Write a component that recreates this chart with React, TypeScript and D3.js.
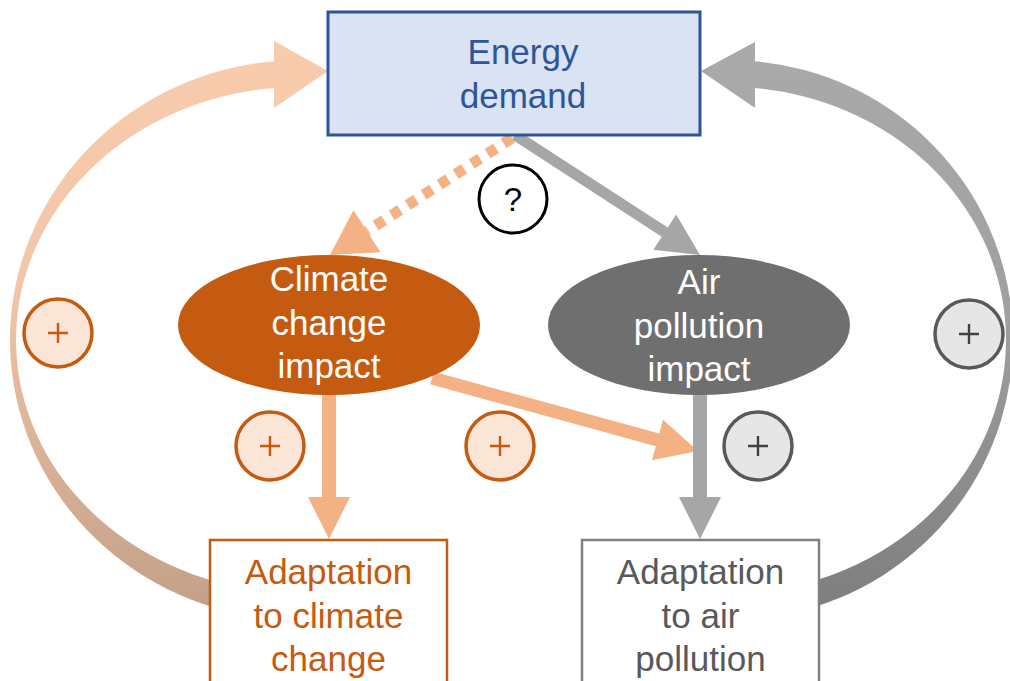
import React, { useEffect, useRef } from 'react';
import * as d3 from 'd3';

const WIDTH = 1010;
const HEIGHT = 681;
const FONT = '"Liberation Sans", Arial, Helvetica, sans-serif';
const FONT_SIZE = 35;

// Diagram content
const demandLabel = ['Energy', 'demand'];
const impactLabels = [
  ['Climate', 'change', 'impact'],
  ['Air', 'pollution', 'impact'],
];
const adaptationLabels = [
  ['Adaptation', 'to climate', 'change'],
  ['Adaptation', 'to air', 'pollution'],
];
const signLabels = ['+', '+', '+', '+', '+'];
const unknownLabel = '?';

// Palette
const ORANGE_DARK = '#c55a11';
const ORANGE_LIGHT = '#f4b183';
const ORANGE_FILL = '#fbe5d6';
const GREY_DARK = '#6f6f6f';
const GREY_LIGHT = '#a6a6a6';
const GREY_FILL = '#e6e6e6';
const BLUE = '#2f5597';

type Pt = [number, number];

// straight block arrow as a polygon
function arrowPolygon(from: Pt, tip: Pt, shaft: number, headLen: number, headHalf: number): Pt[] {
  const dx = tip[0] - from[0];
  const dy = tip[1] - from[1];
  const len = Math.hypot(dx, dy);
  const ux = dx / len, uy = dy / len;
  const nx = -uy, ny = ux;
  const bx = tip[0] - ux * headLen, by = tip[1] - uy * headLen;
  const s = shaft / 2;
  return [
    [from[0] + nx * s, from[1] + ny * s],
    [bx + nx * s, by + ny * s],
    [bx + nx * headHalf, by + ny * headHalf],
    tip,
    [bx - nx * headHalf, by - ny * headHalf],
    [bx - nx * s, by - ny * s],
    [from[0] - nx * s, from[1] - ny * s],
  ];
}

function ellY(x: number, cx: number, cy: number, rx: number, ry: number, sign: number) {
  const t = (x - cx) / rx;
  return cy + sign * ry * Math.sqrt(1 - t * t);
}

// crescent band between two ellipses (PowerPoint-like curved arrow body)
function bandPath(cx: number, cy: number, outer: [number, number], inner: [number, number], xTop: number, xBottom: number, sweep: number) {
  const oTop = ellY(xTop, cx, cy, outer[0], outer[1], -1);
  const oBot = ellY(xBottom, cx, cy, outer[0], outer[1], 1);
  const iTop = ellY(xTop, cx, cy, inner[0], inner[1], -1);
  const iBot = ellY(xBottom, cx, cy, inner[0], inner[1], 1);
  return `M${xTop},${oTop} A${outer[0]},${outer[1]} 0 0 ${sweep} ${xBottom},${oBot} ` +
    `L${xBottom},${iBot} A${inner[0]},${inner[1]} 0 0 ${1 - sweep} ${xTop},${iTop} Z`;
}

const Diagram = () => {
  const svgRef = useRef<SVGSVGElement>(null);

  useEffect(() => {
    const svg = d3.select(svgRef.current);
    svg.selectAll('*').remove();

    const poly = d3.line<Pt>().x(d => d[0]).y(d => d[1]);

    // gradients for the two feedback loops
    const defs = svg.append('defs');
    const gl = defs.append('linearGradient').attr('id', 'loopLeft')
      .attr('gradientUnits', 'userSpaceOnUse').attr('x1', 0).attr('y1', 60).attr('x2', 0).attr('y2', 610);
    gl.append('stop').attr('offset', '0%').attr('stop-color', '#f8cbad');
    gl.append('stop').attr('offset', '40%').attr('stop-color', '#f2c6a8');
    gl.append('stop').attr('offset', '100%').attr('stop-color', '#c3a088');
    const gr = defs.append('linearGradient').attr('id', 'loopRight')
      .attr('gradientUnits', 'userSpaceOnUse').attr('x1', 0).attr('y1', 60).attr('x2', 0).attr('y2', 610);
    gr.append('stop').attr('offset', '0%').attr('stop-color', '#a9a9a9');
    gr.append('stop').attr('offset', '45%').attr('stop-color', '#a0a0a0');
    gr.append('stop').attr('offset', '100%').attr('stop-color', '#7e7e7e');

    // feedback loops
    svg.append('path')
      .attr('d', bandPath(300, 340, [290, 280], [284, 253], 274, 240, 0))
      .attr('fill', 'url(#loopLeft)');
    svg.append('path')
      .attr('d', poly([[274, 41], [328, 71], [274, 108]]) + 'Z')
      .attr('fill', '#f8cbad');

    svg.append('path')
      .attr('d', bandPath(729, 340, [284, 280], [277, 253], 755, 790, 1))
      .attr('fill', 'url(#loopRight)');
    svg.append('path')
      .attr('d', poly([[755, 42], [701, 71], [755, 108]]) + 'Z')
      .attr('fill', '#a9a9a9');

    // dashed arrow: energy demand -> climate change impact
    const dashFrom: Pt = [512, 138];
    const dashTip: Pt = [330, 255];
    const dashPts = arrowPolygon(dashFrom, dashTip, 11, 44, 25);
    svg.append('line')
      .attr('x1', dashFrom[0]).attr('y1', dashFrom[1])
      .attr('x2', (dashPts[1][0] + dashPts[5][0]) / 2)
      .attr('y2', (dashPts[1][1] + dashPts[5][1]) / 2)
      .attr('stroke', ORANGE_LIGHT).attr('stroke-width', 11)
      .attr('stroke-dasharray', '10,9');
    svg.append('path')
      .attr('d', poly([dashPts[2], dashPts[3], dashPts[4]]) + 'Z')
      .attr('fill', ORANGE_LIGHT);

    // solid arrows
    const solidArrows: { from: Pt; tip: Pt; shaft: number; color: string }[] = [
      { from: [515, 135], tip: [700, 255], shaft: 11, color: GREY_LIGHT },
      { from: [329, 390], tip: [329, 539], shaft: 14, color: ORANGE_LIGHT },
      { from: [432, 378], tip: [698, 451], shaft: 13, color: ORANGE_LIGHT },
      { from: [700, 390], tip: [700, 539], shaft: 14, color: GREY_LIGHT },
    ];
    solidArrows.forEach(a => {
      svg.append('path')
        .attr('d', poly(arrowPolygon(a.from, a.tip, a.shaft, 42, 21)) + 'Z')
        .attr('fill', a.color);
    });

    // energy demand box
    svg.append('rect')
      .attr('x', 328).attr('y', 12).attr('width', 372).attr('height', 123)
      .attr('fill', '#dae3f3').attr('stroke', BLUE).attr('stroke-width', 3);
    svg.append('text')
      .attr('y', 64)
      .attr('text-anchor', 'middle').attr('font-family', FONT).attr('font-size', FONT_SIZE)
      .attr('fill', BLUE)
      .selectAll('tspan').data(demandLabel).join('tspan')
      .attr('x', 523).attr('dy', (d, i) => (i === 0 ? 0 : 44)).text(d => d);

    // impact ellipses
    const impactCx = [329, 699];
    const impactFill = [ORANGE_DARK, GREY_DARK];
    const impactY0 = [291, 294];
    impactLabels.forEach((lines, k) => {
      svg.append('ellipse')
        .attr('cx', impactCx[k]).attr('cy', 325).attr('rx', 151).attr('ry', 70)
        .attr('fill', impactFill[k]);
      svg.append('text')
        .attr('y', impactY0[k])
        .attr('text-anchor', 'middle').attr('font-family', FONT).attr('font-size', FONT_SIZE)
        .attr('fill', '#ffffff')
        .selectAll('tspan').data(lines).join('tspan')
        .attr('x', impactCx[k]).attr('dy', (d, i) => (i === 0 ? 0 : 43.5)).text(d => d);
    });

    // adaptation boxes
    const adaptX = [210, 582];
    const adaptStroke = [ORANGE_DARK, '#808080'];
    const adaptText = [ORANGE_DARK, '#595959'];
    adaptationLabels.forEach((lines, k) => {
      svg.append('rect')
        .attr('x', adaptX[k]).attr('y', 540).attr('width', 237).attr('height', 160)
        .attr('fill', '#ffffff').attr('stroke', adaptStroke[k]).attr('stroke-width', 2.5);
      svg.append('text')
        .attr('y', 584)
        .attr('text-anchor', 'middle').attr('font-family', FONT).attr('font-size', FONT_SIZE)
        .attr('fill', adaptText[k])
        .selectAll('tspan').data(lines).join('tspan')
        .attr('x', adaptX[k] + 118.5).attr('dy', (d, i) => (i === 0 ? 0 : 43.5)).text(d => d);
    });

    // sign circles
    const signPos: Pt[] = [[58, 333], [270, 446], [500, 446], [758, 446], [969, 334]];
    const signOrange = [true, true, true, false, false];
    signLabels.forEach((s, k) => {
      const g = svg.append('g').attr('transform', `translate(${signPos[k][0]},${signPos[k][1]})`);
      g.append('circle').attr('r', 34)
        .attr('fill', signOrange[k] ? ORANGE_FILL : GREY_FILL)
        .attr('stroke', signOrange[k] ? ORANGE_DARK : '#595959')
        .attr('stroke-width', 3.5);
      g.append('path')
        .attr('d', 'M-10,0H10M0,-10V10')
        .attr('stroke', signOrange[k] ? ORANGE_DARK : '#404040')
        .attr('stroke-width', 2.4);
      g.append('title').text(s);
    });

    // unknown relationship
    const q = svg.append('g').attr('transform', 'translate(513,199)');
    q.append('circle').attr('r', 34).attr('fill', '#ffffff').attr('stroke', '#000000').attr('stroke-width', 3);
    q.append('text')
      .attr('y', 12).attr('text-anchor', 'middle').attr('font-family', FONT).attr('font-size', 33)
      .attr('fill', '#000000').text(unknownLabel);
  }, []);

  return (
    <svg
      ref={svgRef}
      width={WIDTH}
      height={HEIGHT}
      style={{ position: 'absolute', left: 0, top: 0, background: '#ffffff' }}
    />
  );
};

export default function App() {
  return <Diagram />;
}
